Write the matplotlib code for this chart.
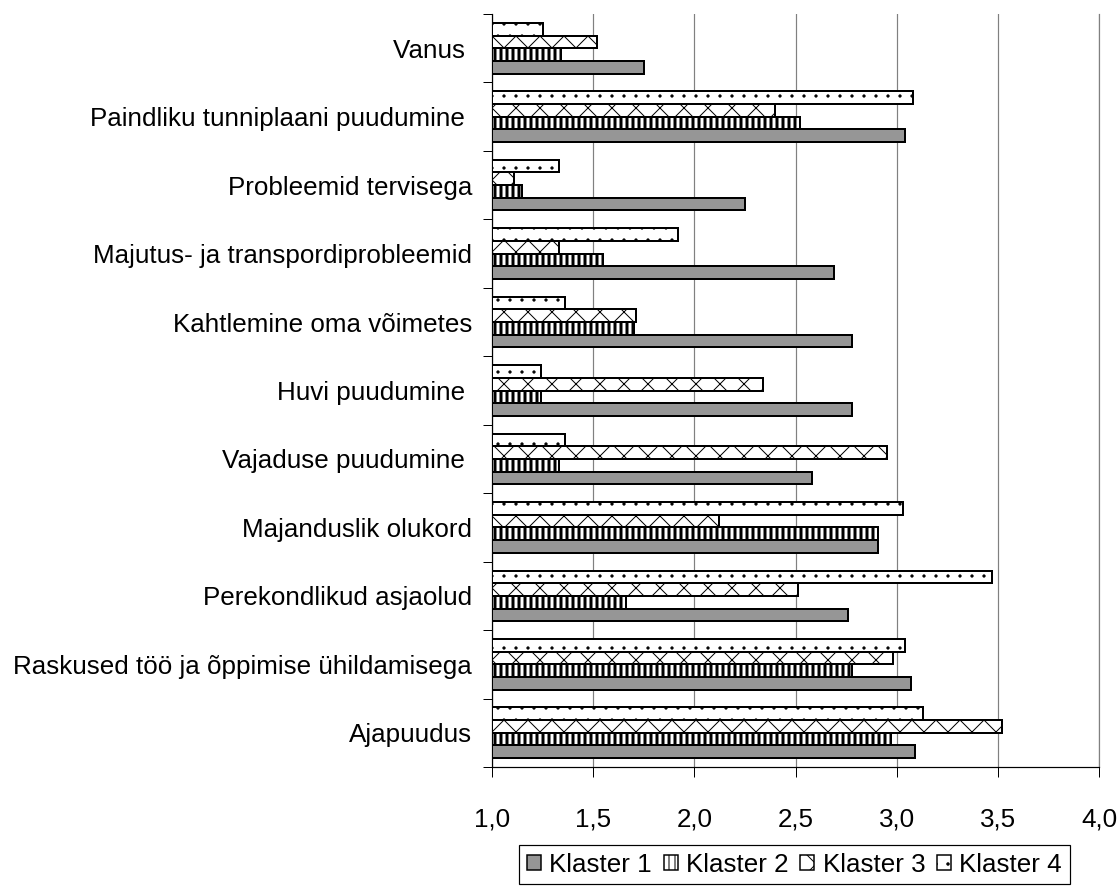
import matplotlib
matplotlib.use("Agg")
import matplotlib.pyplot as plt
import numpy as np
from matplotlib.patches import Patch

plt.rcParams['font.family'] = ['Liberation Sans', 'DejaVu Sans']

categories = [
    "Vanus ",
    "Paindliku tunniplaani puudumine ",
    "Probleemid tervisega",
    "Majutus- ja transpordiprobleemid",
    "Kahtlemine oma võimetes",
    "Huvi puudumine ",
    "Vajaduse puudumine ",
    "Majanduslik olukord",
    "Perekondlikud asjaolud",
    "Raskused töö ja õppimise ühildamisega",
    "Ajapuudus",
]
klaster1 = [1.75, 3.04, 2.25, 2.69, 2.78, 2.78, 2.58, 2.91, 2.76, 3.07, 3.09]
klaster2 = [1.34, 2.52, 1.15, 1.55, 1.70, 1.24, 1.33, 2.91, 1.66, 2.78, 2.97]
klaster3 = [1.52, 2.40, 1.11, 1.33, 1.71, 2.34, 2.95, 2.12, 2.51, 2.98, 3.52]
klaster4 = [1.25, 3.08, 1.33, 1.92, 1.36, 1.24, 1.36, 3.03, 3.47, 3.04, 3.13]
series_names = ["Klaster 1", "Klaster 2", "Klaster 3", "Klaster 4"]
xticks = [1.0, 1.5, 2.0, 2.5, 3.0, 3.5, 4.0]
xticklabels = ["1,0", "1,5", "2,0", "2,5", "3,0", "3,5", "4,0"]

DPI = 72
FS = 26
fig = plt.figure(figsize=(1119 / DPI, 887 / DPI), dpi=DPI)
ax = fig.add_axes([492 / 1119, 1 - 767 / 887, (1099 - 492) / 1119, (767 - 14) / 887])

n = len(categories)
ypos = np.arange(n)[::-1]  # first category at top
bh = 0.185
offsets = [-1.5 * bh, -0.5 * bh, 0.5 * bh, 1.5 * bh]
styles = [
    dict(color="#969696", hatch=None, hlw=1.0),
    dict(color="white", hatch="||", hlw=3.0),
    dict(color="white", hatch="x", hlw=1.0),
    dict(color="white", hatch=".", hlw=0.8),
]
series = [klaster1, klaster2, klaster3, klaster4]
handles = []
for vals, off, st, name in zip(series, offsets, styles, series_names):
    v = np.array(vals)
    bars = ax.barh(ypos + off, v - 1.0, left=1.0, height=bh, color=st["color"],
                   edgecolor="black", linewidth=2.0, hatch=st["hatch"], zorder=3)
    for b in bars:
        try:
            b.set_hatch_linewidth(st["hlw"])
        except AttributeError:
            pass
    h = Patch(facecolor=st["color"], edgecolor="black", linewidth=1.5, hatch=st["hatch"])
    try:
        h.set_hatch_linewidth(min(st["hlw"], 2.5))
    except AttributeError:
        pass
    handles.append(h)

ax.set_xlim(1.0, 4.0)
ax.set_ylim(-0.5, n - 0.5)

ax.set_xticks(xticks)
ax.set_xticklabels(xticklabels, fontsize=FS)
ax.tick_params(axis='x', direction='out', length=10, width=1, pad=31, colors='black')

# category boundaries as major ticks, labels on minor ticks at centers
ax.set_yticks(np.arange(-0.5, n, 1.0))
ax.set_yticklabels([])
ax.set_yticks(ypos, minor=True)
ax.set_yticklabels(categories, minor=True, fontsize=FS)
ax.tick_params(axis='y', which='major', direction='out', length=9, width=1)
ax.tick_params(axis='y', which='minor', length=0, pad=20)

ax.grid(axis='x', color="#808080", linewidth=1.2, zorder=0)
ax.set_axisbelow(True)
ax.spines['top'].set_visible(False)
ax.spines['right'].set_color("#808080")
ax.spines['right'].set_linewidth(1.2)
ax.spines['left'].set_linewidth(1.2)
ax.spines['bottom'].set_linewidth(1.2)

leg = fig.legend(handles, series_names, loc='center', bbox_to_anchor=(794.5 / 1119, 1 - 864.5 / 887),
                 ncol=4, fontsize=FS, handlelength=0.54, handleheight=0.54, handletextpad=0.31,
                 columnspacing=0.46, borderpad=0.3, fancybox=False, framealpha=1,
                 edgecolor="black", borderaxespad=0)
leg.get_frame().set_linewidth(1.2)

fig.savefig("out.png", dpi=DPI)
